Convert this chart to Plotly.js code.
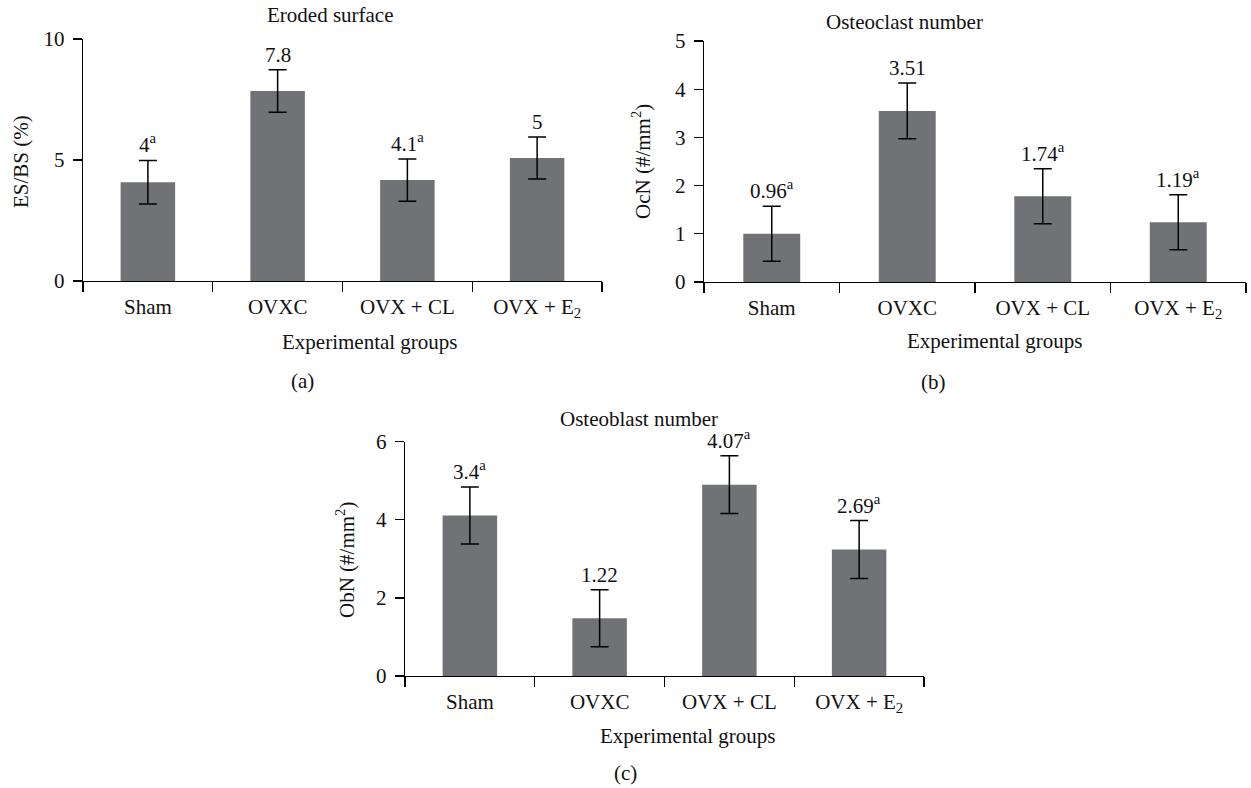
<!DOCTYPE html>
<html>
<head>
<meta charset="utf-8">
<script src="https://cdn.plot.ly/plotly-3.0.1.min.js"></script>
<style>html,body{margin:0;padding:0;background:#fff;}#chart{width:1251px;height:788px;}</style>
</head>
<body>
<div id="chart"></div>
<script>
// ---- data ----
const groups = ['Sham', 'OVXC', 'OVX + CL', 'OVX + E<sub>2</sub>'];

const esbsValues = [4.08, 7.85, 4.17, 5.08];
const esbsErrors = [0.90, 0.88, 0.87, 0.87];
const esbsLabels = ['4<sup>a</sup>', '7.8', '4.1<sup>a</sup>', '5'];

const ocnValues = [1.00, 3.55, 1.78, 1.24];
const ocnErrors = [0.57, 0.58, 0.57, 0.57];
const ocnLabels = ['0.96<sup>a</sup>', '3.51', '1.74<sup>a</sup>', '1.19<sup>a</sup>'];

const obnValues = [4.11, 1.48, 4.90, 3.24];
const obnErrors = [0.73, 0.73, 0.74, 0.74];
const obnLabels = ['3.4<sup>a</sup>', '1.22', '4.07<sup>a</sup>', '2.69<sup>a</sup>'];

const panelTitles = ['Eroded surface', 'Osteoclast number', 'Osteoblast number'];
const yTitles = ['ES/BS (%)', 'OcN (#/mm<sup>2</sup>)', 'ObN (#/mm<sup>2</sup>)'];
const xTitle = 'Experimental groups';
const panelLetters = ['(a)', '(b)', '(c)'];

// ---- styling ----
const W = 1251, H = 788;
const FONT = 'Liberation Serif';
const FS = 21;
const BAR_COLOR = '#717275';

function px(x) { return x / W; }
function py(y) { return 1 - y / H; }

function barTrace(vals, errs, xa, ya) {
  return {
    type: 'bar', x: groups, y: vals, xaxis: xa, yaxis: ya,
    width: 0.42,
    marker: { color: BAR_COLOR, line: { width: 0 } },
    error_y: { type: 'data', array: errs, visible: true, color: '#000', thickness: 1.5, width: 9 },
    hoverinfo: 'skip', showlegend: false
  };
}

function xAxis(domain, anchor) {
  return {
    domain: domain, anchor: anchor, type: 'category', range: [-0.5, 3.5],
    tickson: 'boundaries', ticks: 'outside', ticklen: 10, tickwidth: 1.3, tickcolor: '#000',
    ticklabelstandoff: 6,
    showline: true, linecolor: '#000', linewidth: 1.3, showgrid: false, zeroline: false,
    tickfont: { family: FONT, size: FS, color: '#111' }, fixedrange: true
  };
}
function yAxis(domain, anchor, max, dtick) {
  return {
    domain: domain, anchor: anchor, range: [0, max], dtick: dtick, tick0: 0,
    ticks: 'outside', ticklen: 9, tickwidth: 1.3, tickcolor: '#000',
    ticklabelstandoff: 4,
    showline: true, linecolor: '#000', linewidth: 1.3, showgrid: false, zeroline: false,
    tickfont: { family: FONT, size: FS, color: '#111' }, fixedrange: true
  };
}

const data = [
  barTrace(esbsValues, esbsErrors, 'x', 'y'),
  barTrace(ocnValues, ocnErrors, 'x2', 'y2'),
  barTrace(obnValues, obnErrors, 'x3', 'y3')
];

const annotations = [];
function valueLabels(vals, errs, labels, xr, yr) {
  for (let i = 0; i < vals.length; i++) {
    annotations.push({
      x: groups[i], y: vals[i] + errs[i], xref: xr, yref: yr,
      text: labels[i], showarrow: false, yanchor: 'bottom', yshift: 1,
      font: { family: FONT, size: FS, color: '#111' }
    });
  }
}
valueLabels(esbsValues, esbsErrors, esbsLabels, 'x', 'y');
valueLabels(ocnValues, ocnErrors, ocnLabels, 'x2', 'y2');
valueLabels(obnValues, obnErrors, obnLabels, 'x3', 'y3');

function paperText(text, x, y, angle) {
  annotations.push({
    text: text, x: px(x), y: py(y), xref: 'paper', yref: 'paper',
    xanchor: 'center', yanchor: 'middle', showarrow: false, textangle: angle || 0,
    font: { family: FONT, size: FS, color: '#111' }
  });
}
// panel titles
paperText(panelTitles[0], 330, 15);
paperText(panelTitles[1], 904, 22);
paperText(panelTitles[2], 639, 419);
// y titles
paperText(yTitles[0], 21, 162, -90);
paperText(yTitles[1], 641, 162, -90);
paperText(yTitles[2], 345, 560, -90);
// x titles
paperText(xTitle, 370, 342);
paperText(xTitle, 995, 341);
paperText(xTitle, 688, 736);
// panel letters
paperText(panelLetters[0], 302, 381);
paperText(panelLetters[1], 933, 382);
paperText(panelLetters[2], 625, 773);

const layout = {
  width: W, height: H,
  margin: { l: 0, r: 0, t: 0, b: 0 },
  paper_bgcolor: '#fff', plot_bgcolor: 'rgba(0,0,0,0)',
  showlegend: false,
  xaxis: xAxis([px(83), px(602)], 'y'),
  yaxis: yAxis([py(281), py(39)], 'x', 10, 5),
  xaxis2: xAxis([px(704), px(1246)], 'y2'),
  yaxis2: yAxis([py(282), py(41)], 'x2', 5, 1),
  xaxis3: xAxis([px(405), px(924)], 'y3'),
  yaxis3: yAxis([py(676), py(441.7)], 'x3', 6, 2),
  annotations: annotations
};

Plotly.newPlot('chart', data, layout, { displayModeBar: false, staticPlot: true });
</script>
</body>
</html>
